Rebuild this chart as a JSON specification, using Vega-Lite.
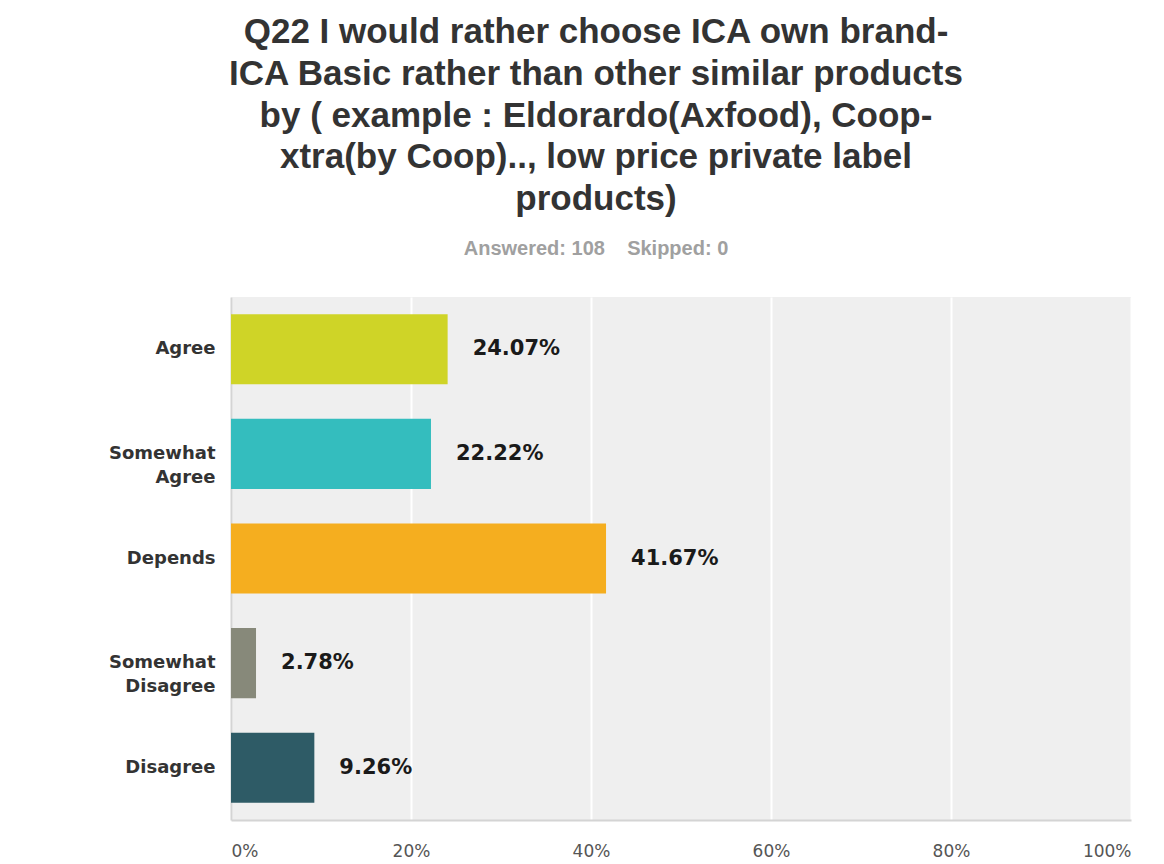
{
  "$schema": "https://vega.github.io/schema/vega-lite/v6.json",
  "width": 900,
  "height": 523,
  "autosize": {"type": "none"},
  "padding": {"left": 231, "top": 297, "right": 33, "bottom": 44},
  "background": "#ffffff",
  "title": {
    "text": [
      "Q22 I would rather choose ICA own brand-",
      "ICA Basic rather than other similar products",
      "by ( example : Eldorardo(Axfood), Coop-",
      "xtra(by Coop).., low price private label",
      "products)"
    ],
    "subtitle": "Answered: 108\u00a0\u00a0\u00a0\u00a0Skipped: 0",
    "anchor": "middle",
    "frame": "group",
    "dx": -85,
    "offset": 38,
    "font": "Liberation Sans",
    "fontSize": 35,
    "fontWeight": "bold",
    "color": "#333333",
    "lineHeight": 41.7,
    "subtitleFont": "Liberation Sans",
    "subtitleFontSize": 20,
    "subtitleFontWeight": "bold",
    "subtitleColor": "#a0a0a0",
    "subtitlePadding": 22
  },
  "data": {
    "values": [
      {"answer": "Agree", "pct": 0.2407},
      {"answer": "Somewhat Agree", "pct": 0.2222},
      {"answer": "Depends", "pct": 0.4167},
      {"answer": "Somewhat Disagree", "pct": 0.0278},
      {"answer": "Disagree", "pct": 0.0926}
    ]
  },
  "encoding": {
    "y": {
      "field": "answer",
      "type": "nominal",
      "sort": null,
      "title": null,
      "scale": {"paddingInner": 0.33, "paddingOuter": 0.165},
      "axis": {
        "ticks": false,
        "labelPadding": 16,
        "labelExpr": "split(datum.label, ' ')",
        "labelFont": "DejaVu Sans",
        "labelFontWeight": "bold",
        "labelFontSize": 18,
        "labelColor": "#333333",
        "labelLineHeight": 24,
        "domainColor": "#d4d4d4",
        "domainWidth": 2,
        "grid": false
      }
    },
    "x": {
      "field": "pct",
      "type": "quantitative",
      "title": null,
      "scale": {"domain": [0, 1], "nice": false},
      "axis": {
        "format": "%",
        "values": [0, 0.2, 0.4, 0.6, 0.8, 1],
        "ticks": false,
        "labelPadding": 23,
        "labelFlush": true,
        "labelFont": "DejaVu Sans",
        "labelFontSize": 17,
        "labelColor": "#555555",
        "domainColor": "#d4d4d4",
        "domainWidth": 2,
        "grid": true,
        "gridColor": "#ffffff",
        "gridWidth": 2
      }
    }
  },
  "layer": [
    {
      "mark": {"type": "bar"},
      "encoding": {
        "color": {
          "field": "answer",
          "type": "nominal",
          "legend": null,
          "scale": {
            "domain": ["Agree", "Somewhat Agree", "Depends", "Somewhat Disagree", "Disagree"],
            "range": ["#cfd427", "#34bdbe", "#f5ae1f", "#87897a", "#2e5b66"]
          }
        }
      }
    },
    {
      "mark": {
        "type": "text",
        "align": "left",
        "baseline": "middle",
        "dx": 25,
        "font": "DejaVu Sans",
        "fontWeight": "bold",
        "fontSize": 21,
        "color": "#1a1a1a"
      },
      "encoding": {
        "text": {"field": "pct", "type": "quantitative", "format": ".2%"}
      }
    }
  ],
  "config": {
    "view": {"fill": "#efefef", "stroke": null}
  }
}
